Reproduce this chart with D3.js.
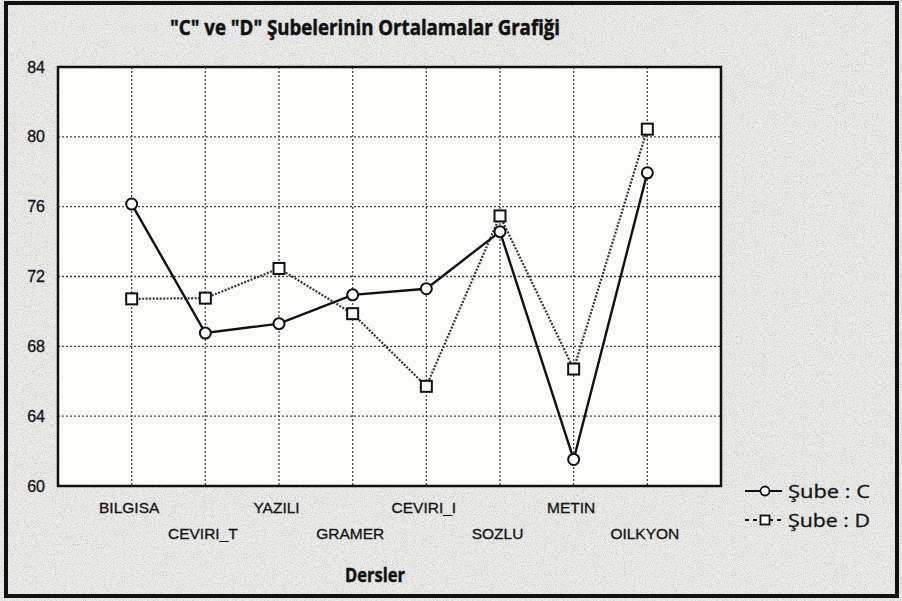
<!DOCTYPE html>
<html>
<head>
<meta charset="utf-8">
<script src="https://cdn.jsdelivr.net/npm/d3@7"></script>
<style>
  body { margin: 0; background: #fff; }
  svg { display: block; }
</style>
</head>
<body>
<div class="container"></div>
<script>
// defining dimensions
const w = 902;
const h = 601;
const margin = { top: 67, right: 181, bottom: 115, left: 58 };

// chart data
const categories = ['BILGISA', 'CEVIRI_T', 'YAZILI', 'GRAMER', 'CEVIRI_I', 'SOZLU', 'METIN', 'OILKYON'];
const subeC = [76.15, 68.76, 69.3, 70.95, 71.3, 74.57, 61.52, 77.94];
const subeD = [70.72, 70.76, 72.46, 69.87, 65.71, 75.47, 66.7, 80.44];
const yTicks = [60, 64, 68, 72, 76, 80, 84];
const seriesNames = ['Şube : C', 'Şube : D'];

const labelFont = '"Liberation Sans", Arial, sans-serif';
const titleFont = '"Open Sans", "Noto Sans", sans-serif';

const svg = d3.select('.container').append('svg')
  .attr('width', w)
  .attr('height', h);

// grain filter for the scanned paper look
const defs = svg.append('defs');
const grain = defs.append('filter').attr('id', 'grain')
  .attr('x', 0).attr('y', 0).attr('width', '100%').attr('height', '100%');
grain.append('feTurbulence')
  .attr('type', 'fractalNoise')
  .attr('baseFrequency', 0.9)
  .attr('numOctaves', 2)
  .attr('seed', 3)
  .attr('result', 'noise');
grain.append('feColorMatrix')
  .attr('in', 'noise')
  .attr('type', 'matrix')
  .attr('values', '0 0 0 0 0  0 0 0 0 0  0 0 0 0 0  0 0 0 -0.8 0.45')
  .attr('result', 'dots');
grain.append('feComposite')
  .attr('in', 'dots')
  .attr('in2', 'SourceGraphic')
  .attr('operator', 'atop');

// page background
svg.append('rect')
  .attr('width', w)
  .attr('height', h)
  .attr('fill', '#ececea')
  .attr('filter', 'url(#grain)');
// outer frame
svg.append('rect')
  .attr('x', 6)
  .attr('y', 3)
  .attr('width', w - 11)
  .attr('height', h - 8)
  .attr('fill', 'none')
  .attr('stroke', '#111')
  .attr('stroke-width', 4);

// title
svg.append('text')
  .attr('x', 365)
  .attr('y', 35)
  .attr('text-anchor', 'middle')
  .attr('textLength', 390)
  .attr('lengthAdjust', 'spacingAndGlyphs')
  .style('font-family', titleFont)
  .style('font-weight', 'bold')
  .style('font-size', '21px')
  .attr('fill', '#111')
  .attr('stroke', '#111')
  .attr('stroke-width', 0.5)
  .text('"C" ve "D" Şubelerinin Ortalamalar Grafiği');

// defining scales
const xScale = d3.scalePoint()
  .domain(categories)
  .range([margin.left, w - margin.right])
  .padding(1);
const yScale = d3.scaleLinear()
  .domain([60, 84])
  .range([h - margin.bottom, margin.top]);

// plot background
svg.append('rect')
  .attr('x', margin.left)
  .attr('y', margin.top)
  .attr('width', w - margin.left - margin.right)
  .attr('height', h - margin.top - margin.bottom)
  .attr('fill', '#fcfcfb');

// horizontal grid
svg.append('g')
  .selectAll('line').data(yTicks.slice(1, -1)).enter().append('line')
  .attr('x1', margin.left)
  .attr('x2', w - margin.right)
  .attr('y1', d => yScale(d))
  .attr('y2', d => yScale(d))
  .attr('stroke', '#444')
  .attr('stroke-width', 1.3)
  .attr('stroke-dasharray', '2,2');
// vertical grid
svg.append('g')
  .selectAll('line').data(categories).enter().append('line')
  .attr('x1', d => xScale(d))
  .attr('x2', d => xScale(d))
  .attr('y1', margin.top)
  .attr('y2', h - margin.bottom)
  .attr('stroke', '#444')
  .attr('stroke-width', 1.3)
  .attr('stroke-dasharray', '2,2');

// y axis
const yAxis = d3.axisLeft(yScale)
  .tickValues(yTicks)
  .tickSize(0)
  .tickPadding(13);
svg.append('g')
  .attr('transform', 'translate(' + margin.left + ', 0)')
  .attr('id', 'y-axis')
  .call(yAxis)
  .call(g => g.select('.domain').remove())
  .call(g => g.selectAll('text')
    .style('font-family', labelFont)
    .style('font-size', '16px')
    .attr('fill', '#111')
    .attr('stroke', '#111')
    .attr('stroke-width', 0.3));

// x axis, labels staggered on two rows
const xAxis = d3.axisBottom(xScale)
  .tickSize(0)
  .tickPadding(0);
svg.append('g')
  .attr('transform', 'translate(0, ' + (h - margin.bottom) + ')')
  .attr('id', 'x-axis')
  .call(xAxis)
  .call(g => g.select('.domain').remove())
  .call(g => g.selectAll('text')
    .attr('x', -3)
    .attr('y', (d, i) => (i % 2 === 0 ? 27 : 53))
    .attr('dy', 0)
    .style('font-family', labelFont)
    .style('font-size', '15.5px')
    .attr('fill', '#111')
    .attr('stroke', '#111')
    .attr('stroke-width', 0.3));

// x axis title
svg.append('text')
  .attr('x', 375)
  .attr('y', 582)
  .attr('text-anchor', 'middle')
  .attr('textLength', 60)
  .attr('lengthAdjust', 'spacingAndGlyphs')
  .style('font-family', titleFont)
  .style('font-weight', 'bold')
  .style('font-size', '19px')
  .attr('fill', '#111')
  .attr('stroke', '#111')
  .attr('stroke-width', 0.4)
  .text('Dersler');

// series lines
const line = d3.line()
  .x((d, i) => xScale(categories[i]))
  .y(d => yScale(d));

svg.append('path')
  .datum(subeD)
  .attr('d', line)
  .attr('fill', 'none')
  .attr('stroke', '#333')
  .attr('stroke-width', 2.2)
  .attr('stroke-dasharray', '2,1.5');
svg.append('path')
  .datum(subeC)
  .attr('d', line)
  .attr('fill', 'none')
  .attr('stroke', '#111')
  .attr('stroke-width', 2.4);

// markers
const sq = 11;
svg.append('g')
  .selectAll('rect').data(subeD).enter().append('rect')
  .attr('x', (d, i) => xScale(categories[i]) - sq / 2)
  .attr('y', d => yScale(d) - sq / 2)
  .attr('width', sq)
  .attr('height', sq)
  .attr('fill', '#fff')
  .attr('stroke', '#111')
  .attr('stroke-width', 2);
svg.append('g')
  .selectAll('circle').data(subeC).enter().append('circle')
  .attr('cx', (d, i) => xScale(categories[i]))
  .attr('cy', d => yScale(d))
  .attr('r', 5.5)
  .attr('fill', '#fff')
  .attr('stroke', '#111')
  .attr('stroke-width', 2);

// plot border
svg.append('rect')
  .attr('x', margin.left)
  .attr('y', margin.top)
  .attr('width', w - margin.left - margin.right)
  .attr('height', h - margin.top - margin.bottom)
  .attr('fill', 'none')
  .attr('stroke', '#111')
  .attr('stroke-width', 2.5);

// legend
const legend = svg.append('g')
  .attr('transform', 'translate(745, 491)');
seriesNames.forEach((name, i) => {
  const g = legend.append('g')
    .attr('transform', 'translate(0, ' + (i * 29) + ')');
  g.append('line')
    .attr('x1', 0)
    .attr('x2', 37)
    .attr('stroke', '#111')
    .attr('stroke-width', 2)
    .attr('stroke-dasharray', i === 0 ? null : '4,4');
  if (i === 0) {
    g.append('circle')
      .attr('cx', 20)
      .attr('r', 4.5)
      .attr('fill', '#fcfcfb')
      .attr('stroke', '#111')
      .attr('stroke-width', 1.8);
  } else {
    g.append('rect')
      .attr('x', 15.5)
      .attr('y', -4.5)
      .attr('width', 9)
      .attr('height', 9)
      .attr('fill', '#fcfcfb')
      .attr('stroke', '#111')
      .attr('stroke-width', 1.8);
  }
  g.append('text')
    .attr('x', 43)
    .attr('dy', '0.36em')
    .attr('textLength', 82)
    .attr('lengthAdjust', 'spacingAndGlyphs')
    .style('font-family', titleFont)
    .style('font-size', '19px')
    .attr('fill', '#111')
    .attr('stroke', '#111')
    .attr('stroke-width', 0.3)
    .text(name);
});
</script>
</body>
</html>
